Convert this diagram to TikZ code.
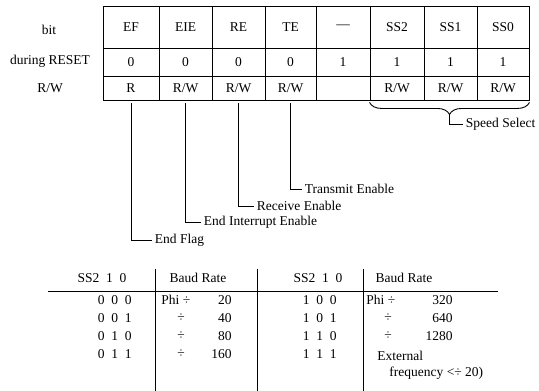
\documentclass[tikz,border=0pt]{standalone}
\usepackage{fontspec}
\setmainfont{Liberation Serif}
\usetikzlibrary{positioning,calc,decorations.pathreplacing}
\newcommand\rwtxt{R/W}

\begin{document}
\begin{tikzpicture}[x=1pt,y=-1pt,line width=0.9pt,
  cell/.style={draw,inner sep=0pt,font=\fontsize{13.5}{15}\selectfont},
  txt/.style={inner sep=0pt,font=\fontsize{13.5}{15}\selectfont},
  lbl/.style={inner sep=2.5pt,anchor=west,font=\fontsize{13.5}{15}\selectfont},
  lead/.style={line width=0.9pt},
  brc/.style={line width=0.9pt,decorate,decoration={brace,mirror,amplitude=12pt}}
]
\useasboundingbox (0,0) rectangle (539,391);
% register
\node[txt] (hd-bit) at (49,30) {bit};
\node[txt] (hd-rst) at (50,61) {during RESET};
\node[txt] (hd-rw) at (50,88) {R/W};
\foreach \c/\w/\n/\b/\r/\a in {131/56/ef/EF/0/R,185.5/53/eie/EIE/0/\rwtxt,
    238.5/53/re/RE/0/\rwtxt,290.5/51/te/TE/0/\rwtxt,343/54/nc/---/1/{},
    397/54/ss2/SS2/1/\rwtxt,450.5/53/ss1/SS1/1/\rwtxt,503/52/ss0/SS0/1/\rwtxt}{
  \node[cell,minimum width=\w,minimum height=42] (b-\n) at (\c,27) {\b};
  \node[cell,minimum width=\w,minimum height=28] (r-\n) at (\c,62) {\r};
  \node[cell,minimum width=\w,minimum height=24] (a-\n) at (\c,88) {\a};
}
% bit names
\node[lbl] (l-te) at (302,189) {Transmit Enable};
\node[lbl] (l-re) at (254,206) {Receive Enable};
\node[lbl] (l-eie) at (201,222) {End Interrupt Enable};
\node[lbl] (l-ef) at (152,240) {End Flag};
\foreach \n in {ef,eie,re,te}
  \draw[lead] ([yshift=-3pt]a-\n.south) |- (l-\n.west);
\draw[brc] ([yshift=-2pt]a-ss2.south west) -- ([yshift=-2pt]a-ss0.south east);
\coordinate (ss-tip) at ($(a-ss2.south west)!0.5!(a-ss0.south east)+(0,14)$);
\node[lbl] (l-ss) at (463,124) {Speed Select};
\draw[lead] (ss-tip) |- (l-ss.west);
% baud rate table
\draw (48,291) -- (498,291);
\foreach \x in {155,257,363}
  \draw (\x,269) -- (\x,391);
\node[txt] (t1-ss) at (102,278) {SS2~~1~~0};
\node[txt] (t1-br) at (198,278) {Baud Rate};
\node[txt] (t2-ss) at (318,278) {SS2~~1~~0};
\node[txt] (t2-br) at (404,278) {Baud Rate};
\node[txt,anchor=east] (c1-0) at (132,300) {0~~0~~0};
\node[txt,anchor=east] (c1-1) at (132,318) {0~~0~~1};
\node[txt,anchor=east] (c1-2) at (132,336) {0~~1~~0};
\node[txt,anchor=east] (c1-3) at (132,354) {0~~1~~1};
\node[txt,anchor=west] (p1-0) at (161,300) {Phi ÷};
\node[txt] (p1-1) at (181,318) {÷};
\node[txt] (p1-2) at (181,336) {÷};
\node[txt] (p1-3) at (181,354) {÷};
\node[txt,anchor=east] (d1-0) at (232,300) {20};
\node[txt,anchor=east] (d1-1) at (232,318) {40};
\node[txt,anchor=east] (d1-2) at (232,336) {80};
\node[txt,anchor=east] (d1-3) at (232,354) {160};
\node[txt,anchor=east] (c2-0) at (337,300) {1~~0~~0};
\node[txt,anchor=east] (c2-1) at (337,318) {1~~0~~1};
\node[txt,anchor=east] (c2-2) at (337,336) {1~~1~~0};
\node[txt,anchor=east] (c2-3) at (337,354) {1~~1~~1};
\node[txt,anchor=west] (p2-0) at (366,300) {Phi ÷};
\node[txt] (p2-1) at (388,318) {÷};
\node[txt] (p2-2) at (388,336) {÷};
\node[txt,anchor=east] (d2-0) at (453,300) {320};
\node[txt,anchor=east] (d2-1) at (453,318) {640};
\node[txt,anchor=east] (d2-2) at (453,336) {1280};
\node[txt,anchor=west] (e2-0) at (377,356) {External};
\node[txt,anchor=west] (e2-1) at (389,373) {frequency <÷ 20)};
\end{tikzpicture}
\end{document}
